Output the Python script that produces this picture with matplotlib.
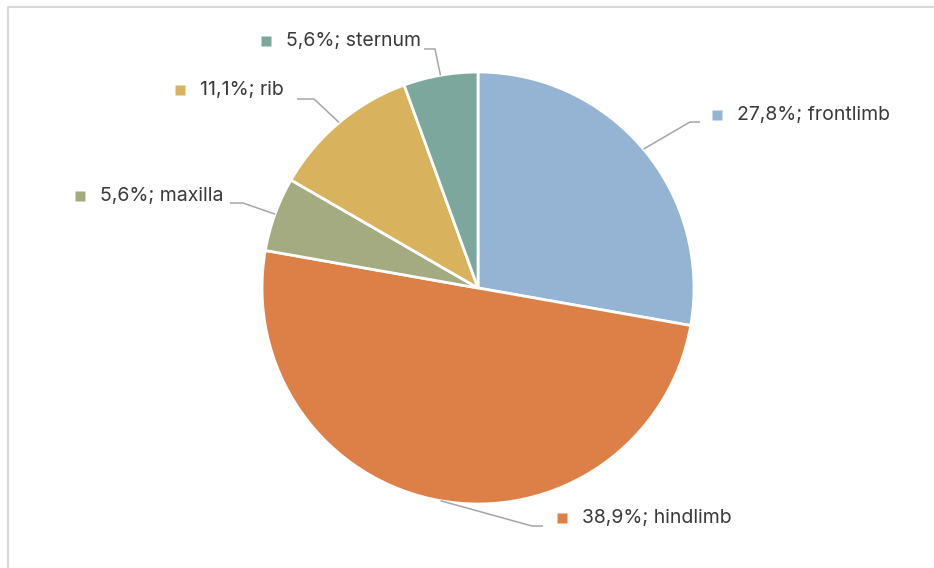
import matplotlib
matplotlib.use('Agg')
import matplotlib.pyplot as plt
import numpy as np

# Bone elements found in the assemblage
parts = ['frontlimb', 'hindlimb', 'maxilla', 'rib', 'sternum']
counts = [5, 9, 1, 2, 1]
pct_labels = ['27,8%', '38,9%', '5,6%', '11,1%', '5,6%']
colors = ['#95B3D2', '#DD8047', '#A5AB81', '#D8B25C', '#7BA79D']

W, H = 934, 568
CX, CY, R = 478, 280, 216

# label placement (pixels from top-left): marker x, text y, elbow x, elbow y, line end x
label_pos = {
    'frontlimb': (717, 115, 690, 122, 700),
    'hindlimb': (562, 518, 532, 526, 543),
    'maxilla': (80, 196, 243, 203, 230),
    'rib': (180, 90, 314, 99, 297),
    'sternum': (266, 41, 435, 49, 424),
}

plt.rcParams['font.family'] = ['Inter', 'DejaVu Sans']

fig = plt.figure(figsize=(W / 100, H / 100), dpi=100)
ax = fig.add_axes([0, 0, 1, 1])

# chart area frame (only left and top edges fall inside the image)
ax.plot([7.5, 7.5, W + 5], [-5, H - 6.5, H - 6.5], color='#D9D9D9', lw=1.5)

wedges, _ = ax.pie(counts, colors=colors, startangle=90, counterclock=False,
                   radius=R, center=(CX, CY), frame=True,
                   wedgeprops=dict(edgecolor='white', linewidth=2))
ax.set_xlim(0, W)
ax.set_ylim(0, H)
ax.set_aspect('equal')
ax.axis('off')

for w, name, pct, col in zip(wedges, parts, pct_labels, colors):
    mid = np.deg2rad((w.theta1 + w.theta2) / 2)
    ex, ey = CX + R * np.cos(mid), CY + R * np.sin(mid)
    mx, ty, bx, by, lx = label_pos[name]
    ax.plot([ex, bx, lx], [ey, H - by, H - by], color='#A6A6A6', lw=1.1,
            solid_capstyle='butt', zorder=1)
    ax.plot([mx], [H - ty], marker='s', ms=6.5, color=col, mec='none')
    ax.text(mx + 20, H - ty, f'{pct}; {name}', fontsize=14, color='#3A3A3A',
            ha='left', va='center')

fig.savefig('out.png', dpi=100)
